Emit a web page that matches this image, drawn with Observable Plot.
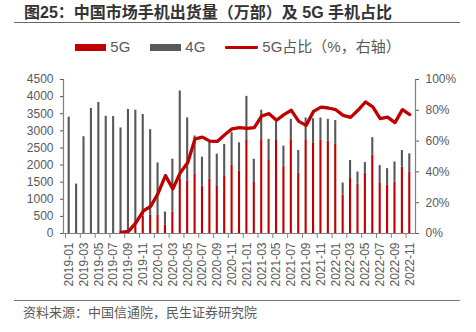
<!DOCTYPE html>
<html>
<head>
<meta charset="utf-8">
<script src="https://cdn.jsdelivr.net/npm/d3@7"></script>
<script src="https://cdn.jsdelivr.net/npm/@observablehq/plot@0.6"></script>
<style>
  html, body { margin: 0; padding: 0; background: #fff; }
  body { width: 476px; height: 332px; position: relative; overflow: hidden;
         font-family: "Liberation Sans", Arial, "Noto Sans CJK SC", sans-serif; }
  #title { position: absolute; left: 24px; top: 3px; font-size: 16px; font-weight: bold;
           color: #333; line-height: 20px; white-space: nowrap; }
  #rule1 { position: absolute; left: 14px; width: 446px; top: 22px; border-top: 1px solid #666; }
  #legend { position: absolute; left: 0; width: 476px; top: 38px; display: flex; justify-content: center;
            align-items: center; font-size: 15px; color: #595959; line-height: 18px; }
  .item { display: flex; align-items: center; margin: 0 10px; }
  .sw { display: inline-block; margin-right: 4px; }
  #chart { position: absolute; left: 0; top: 60px; }
  #rule2 { position: absolute; left: 14px; width: 446px; top: 300px; border-top: 1.5px solid #777; }
  #source { position: absolute; left: 23px; top: 304px; font-size: 13px; color: #595959; line-height: 18px; white-space: nowrap; }
</style>
</head>
<body>
<div id="title">图25：中国市场手机出货量（万部）及 5G 手机占比</div>
<div id="rule1"></div>
<div id="legend"></div>
<div id="chart"></div>
<div id="rule2"></div>
<div id="source">资料来源：中国信通院，民生证券研究院</div>
<script>
const months = [
  "2019-01","2019-02","2019-03","2019-04","2019-05","2019-06","2019-07","2019-08","2019-09","2019-10","2019-11","2019-12",
  "2020-01","2020-02","2020-03","2020-04","2020-05","2020-06","2020-07","2020-08","2020-09","2020-10","2020-11","2020-12",
  "2021-01","2021-02","2021-03","2021-04","2021-05","2021-06","2021-07","2021-08","2021-09","2021-10","2021-11","2021-12",
  "2022-01","2022-02","2022-03","2022-04","2022-05","2022-06","2022-07","2022-08","2022-09","2022-10","2022-11"
];
// 5G shipments (万部)
const g5 = [
  0,0,0,0,0,0,0,22,50,249,507,543,
  546,239,630,1600,1542,1745,1380,1595,1375,1669,2003,1817,
  2720,1493,2740,2133,2740,1966,2740,1772,2740,2652,2740,2700,
  2622,1119,1610,1443,1768,2298,1463,1424,1502,1944,1787
];
// 4G shipments (万部)
const g4 = [
  3400,1444,2828,3653,3830,3427,3417,3061,3574,3355,2969,2491,
  1516,389,1540,2564,1836,1103,849,1076,943,933,943,834,
  1287,677,860,616,517,587,596,654,634,704,634,636,
  678,354,521,354,304,501,521,471,590,482,540
];
// 5G share (%, right axis)
const share = [
  null,null,null,null,null,null,null,0.7,1.4,6.9,14.6,17.6,
  26.0,37.6,29.0,39.5,45.9,61.5,62.6,60.0,59.8,64.1,68.0,68.7,
  68.2,68.8,76.3,77.8,73.5,77.2,80.0,72.8,70.2,79.3,82.1,81.5,
  80.4,76.7,75.4,80.0,85.4,82.2,74.6,75.6,72.0,80.4,77.2
];
const seriesNames = ["5G", "4G"];
const seriesColors = ["#C00000", "#595959"];
const lineName = "5G占比（%，右轴）";
const leftTicks = [0,500,1000,1500,2000,2500,3000,3500,4000,4500];
const rightTicks = [0,20,40,60,80,100];
const xLabelMonths = months.filter((d, i) => i % 2 === 0);

const yMax = 4500;          // left axis max, equals 100% on right axis
const pctToY = p => p * yMax / 100;

const bars = [];
months.forEach((m, i) => {
  bars.push({month: m, series: "5G", value: g5[i]});
  bars.push({month: m, series: "4G", value: g4[i]});
});
const lineData = months.map((m, i) => ({month: m, share: share[i]})).filter(d => d.share != null);

// legend
const legend = document.getElementById("legend");
legend.innerHTML =
  `<span class="item"><span class="sw" style="width:31px;height:7px;background:${seriesColors[0]}"></span>${seriesNames[0]}</span>` +
  `<span class="item"><span class="sw" style="width:31px;height:7px;background:${seriesColors[1]}"></span>${seriesNames[1]}</span>` +
  `<span class="item"><span class="sw" style="width:33px;height:3px;background:${seriesColors[0]};border-radius:1px"></span>${lineName}</span>`;

const chart = Plot.plot({
  width: 476,
  height: 240,
  marginLeft: 63,
  marginRight: 61,
  marginTop: 19,
  marginBottom: 67,
  style: {fontSize: "12px", fontFamily: '"Liberation Sans", Arial, sans-serif', color: "#595959", background: "transparent"},
  x: {type: "band", domain: months, paddingInner: 0.716, paddingOuter: 0.628, round: false, axis: null},
  y: {domain: [0, yMax], axis: null},
  color: {domain: seriesNames, range: seriesColors},
  marks: [
    Plot.barY(bars, {x: "month", y: "value", fill: "series", order: seriesNames}),
    Plot.line(lineData, {x: "month", y: d => pctToY(d.share), stroke: seriesColors[0], strokeWidth: 3.3, strokeLinejoin: "round", strokeLinecap: "round"}),
    Plot.ruleY([0], {stroke: "#808080", strokeWidth: 1.2}),
    Plot.frame({anchor: "left", stroke: "#808080", strokeWidth: 1.2}),
    Plot.frame({anchor: "right", stroke: "#808080", strokeWidth: 1.2}),
    Plot.axisY(leftTicks, {anchor: "left", label: null, tickSize: 3, tickPadding: 7, tickFormat: d => String(d), color: "#595959"}),
    Plot.axisY(rightTicks.map(pctToY), {anchor: "right", label: null, tickSize: 3, tickPadding: 7, tickFormat: d => `${Math.round(d * 100 / yMax)}%`, color: "#595959"}),
    Plot.axisX(xLabelMonths, {anchor: "bottom", label: null, tickSize: 0, tickPadding: 9, tickRotate: -90, color: "#595959"}),
    Plot.axisX(xLabelMonths, {anchor: "bottom", label: null, tickSize: 5, tickFormat: () => "", dx: -3.7, color: "#808080"})
  ]
});
document.getElementById("chart").appendChild(chart);
</script>
</body>
</html>
